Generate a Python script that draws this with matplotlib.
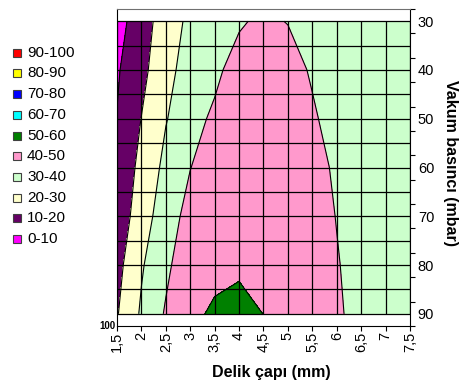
import matplotlib
matplotlib.use("Agg")
import matplotlib.pyplot as plt
from matplotlib.patches import Rectangle
import numpy as np

plt.rcParams['font.family'] = ['Liberation Sans', 'DejaVu Sans']

# Hole diameter (mm) and vacuum pressure (mbar) grid
diameters = [1.5, 2.0, 2.5, 3.0, 3.5, 4.0, 4.5, 5.0, 5.5, 6.0, 6.5, 7.0, 7.5]
pressures = [30, 40, 50, 60, 70, 80, 90]

# Measured response for each pressure row (one value per diameter)
row_30 = [6.0, 15.75, 24.6, 32.3, 35.0, 38.5, 42.5, 39.5, 37.0, 35.0, 34.0, 33.5, 33.0]
row_40 = [9.0, 17.0, 27.7, 33.2, 37.4, 45.0, 49.0, 46.0, 38.3, 36.0, 35.0, 34.0, 33.5]
row_50 = [10.3, 20.2, 29.5, 36.0, 42.0, 47.0, 49.0, 48.0, 42.0, 34.0, 33.0, 32.5, 32.0]
row_60 = [13.0, 22.5, 32.6, 39.8, 45.0, 48.0, 49.5, 49.0, 46.0, 37.4, 33.0, 32.0, 31.5]
row_70 = [13.5, 25.5, 35.2, 43.4, 47.0, 49.0, 49.5, 49.5, 47.0, 39.5, 33.0, 32.0, 31.0]
row_80 = [16.9, 29.0, 38.0, 46.5, 46.0, 48.5, 48.5, 47.5, 46.0, 41.0, 34.0, 32.0, 31.0]
row_90 = [19.3, 31.3, 41.0, 46.7, 52.2, 53.0, 49.9, 47.0, 45.0, 42.0, 35.3, 33.0, 32.0]

band_labels = ['0-10', '10-20', '20-30', '30-40', '40-50',
               '50-60', '60-70', '70-80', '80-90', '90-100']
band_levels = [0, 10, 20, 30, 40, 50, 60, 70, 80, 90, 100]
band_colors = ['#FF00FF', '#660066', '#FFFFCC', '#CCFFCC', '#FF99CC',
               '#008000', '#00FFFF', '#0000FF', '#FFFF00', '#FF0000']

x_tick_labels = ['1,5', '2', '2,5', '3', '3,5', '4', '4,5', '5', '5,5',
                 '6', '6,5', '7', '7,5']
y_tick_values = [30, 40, 50, 60, 70, 80, 90]

Z = np.array([row_30, row_40, row_50, row_60, row_70, row_80, row_90])
X, Y = np.meshgrid(diameters, pressures)

W, H = 460, 387
fig = plt.figure(figsize=(W / 100, H / 100), dpi=100)
ax = fig.add_axes([117 / W, 1 - 326 / H, 293 / W, 317 / H])

ax.contourf(X, Y, Z, levels=band_levels, colors=band_colors)
ax.contour(X, Y, Z, levels=band_levels[1:-1], colors='black', linewidths=0.8)

# cell grid over the surface
grid_p = np.arange(30, 91, 5)
ax.vlines(diameters, pressures[0], pressures[-1], colors='black', linewidth=0.9)
ax.hlines(grid_p, diameters[0], diameters[-1], colors='black', linewidth=0.9)

ax.set_xlim(diameters[0], diameters[-1])
ax.set_ylim(92.5, 27.5)

# x axis
ax.set_xticks(diameters)
ax.set_xticklabels(x_tick_labels, rotation=90, fontsize=10.5)
ax.tick_params(axis='x', direction='out', length=3.6, width=0.8, pad=0.8)

# y axis on the right; labels sit between the tick marks
ax.yaxis.tick_right()
ax.set_yticks(y_tick_values)
ax.set_yticklabels([str(v) for v in y_tick_values], fontsize=10.5)
ax.set_yticks(np.arange(27.5, 93, 5), minor=True)
ax.tick_params(axis='y', which='major', length=0, pad=5.6)
ax.tick_params(axis='y', which='minor', length=3.6, width=0.8, direction='out')

for side in ['left', 'right', 'bottom']:
    ax.spines[side].set_color('black')
    ax.spines[side].set_linewidth(0.8)
ax.spines['top'].set_color('#707070')
ax.spines['top'].set_linewidth(0.8)

fig.text(271 / W, 1 - 373 / H, 'Delik çapı (mm)', ha='center', va='center',
         fontsize=11.5, fontweight='bold')
fig.text(451 / W, 1 - 162.5 / H, 'Vakum basıncı (mbar)', ha='center', va='center',
         rotation=-90, fontsize=11.5, fontweight='bold')
fig.text(116 / W, 1 - 326 / H, '100', ha='right', va='center',
         fontsize=7, fontweight='bold')

# legend, highest band on top
for i, (lab, col) in enumerate(zip(band_labels[::-1], band_colors[::-1])):
    yc = 52.7 + 20.7 * i
    fig.add_artist(Rectangle((13 / W, 1 - (yc + 4) / H), 8 / W, 8 / H,
                             transform=fig.transFigure, facecolor=col,
                             edgecolor='#404040', linewidth=0.8))
    fig.text(27 / W, 1 - yc / H, lab, ha='left', va='center', fontsize=11)

fig.savefig('out.png', dpi=100)
